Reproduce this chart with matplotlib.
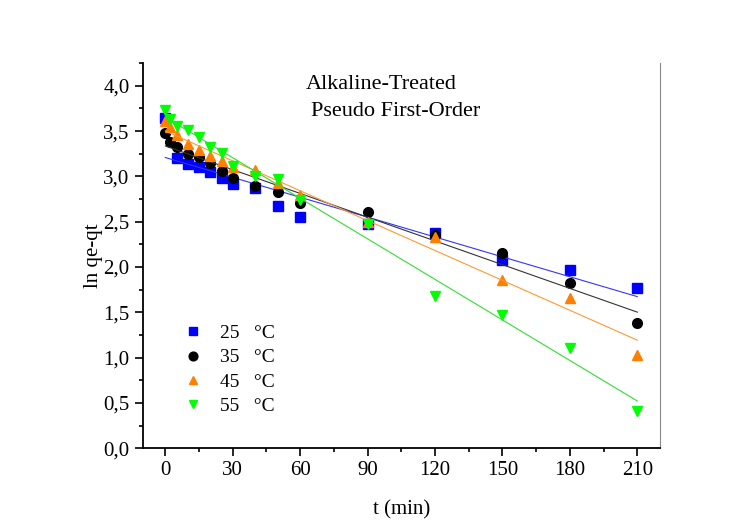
import matplotlib.pyplot as plt
import numpy as np
from matplotlib.ticker import MultipleLocator, FuncFormatter

plt.rcParams['font.family'] = ['Liberation Serif', 'DejaVu Serif']

# contact times (min)
t_all = [0, 2, 5, 10, 15, 20, 25, 30, 40, 50, 60, 90, 120, 150, 180, 210]
t_25 = [0, 5, 10, 15, 20, 25, 30, 40, 50, 60, 90, 120, 150, 180, 210]

# ln(qe - qt) at each temperature
y_25 = [3.64, 3.20, 3.14, 3.10, 3.05, 2.98, 2.92, 2.87, 2.67, 2.55, 2.47, 2.37, 2.08, 1.97, 1.77]
y_35 = [3.48, 3.38, 3.32, 3.25, 3.21, 3.15, 3.06, 2.98, 2.89, 2.83, 2.71, 2.61, 2.35, 2.16, 1.82, 1.38]
y_45 = [3.61, 3.55, 3.46, 3.36, 3.29, 3.23, 3.17, 3.10, 3.07, 2.93, 2.80, 2.50, 2.33, 1.86, 1.66, 1.03]
y_55 = [3.73, 3.63, 3.56, 3.51, 3.43, 3.32, 3.26, 3.12, 3.01, 2.97, 2.74, 2.48, 1.68, 1.47, 1.11, 0.41]

labels = ["25   °C", "35   °C", "45   °C", "55   °C"]

fig = plt.figure(figsize=(7.48, 5.31), dpi=100)
ax = fig.add_axes([0.191, 0.156, 0.691, 0.725])

series = [
    (t_25, y_25, 's', '#0000ff', '#3333ff'),
    (t_all, y_35, 'o', '#000000', '#333333'),
    (t_all, y_45, '^', '#ff7f00', '#ff9933'),
    (t_all, y_55, 'v', '#00ff00', '#33dd33'),
]

for (t, y, m, c, lc), lab in zip(series, labels):
    ax.plot(t, y, m, color=c, markersize=7, linestyle='none', label=lab)
    # linear fit drawn over 0-210 min
    k, b = np.polyfit(t, y, 1)
    tt = np.array([0, 210])
    ax.plot(tt, k * tt + b, color=lc, linewidth=0.8)

ax.set_xlim(-10, 220)
ax.set_ylim(0, 4.25)
ax.xaxis.set_minor_locator(MultipleLocator(15))
ax.yaxis.set_major_locator(MultipleLocator(0.5))
ax.yaxis.set_minor_locator(MultipleLocator(0.25))
ax.set_xticks(range(0, 211, 30))
ax.yaxis.set_major_formatter(FuncFormatter(lambda v, p: f"{v:.1f}".replace('.', ',')))
ax.tick_params(which='major', direction='out', length=6, width=1.2, labelsize=15)
ax.tick_params(which='minor', direction='out', length=3, width=1.2)
ax.tick_params(axis='x', which='both', top=False)
ax.tick_params(axis='y', which='both', right=False)

ax.spines['top'].set_visible(False)
ax.spines['right'].set_color('#888888')
ax.spines['left'].set_linewidth(1.3)
ax.spines['bottom'].set_linewidth(1.3)

ax.set_xlabel("t (min)", fontsize=15, labelpad=14)
ax.set_ylabel("ln qe-qt", fontsize=15, labelpad=0)

ax.text(0.462, 0.945, "Alkaline-Treated", transform=ax.transAxes, fontsize=16, ha='center', va='center')
ax.text(0.489, 0.875, "Pseudo First-Order", transform=ax.transAxes, fontsize=16, ha='center', va='center')

ax.legend(loc='lower left', bbox_to_anchor=(0.025, 0.04), frameon=False, fontsize=14,
          handletextpad=0.4, labelspacing=0.35, markerscale=0.9)

fig.savefig("out.png", dpi=100)
